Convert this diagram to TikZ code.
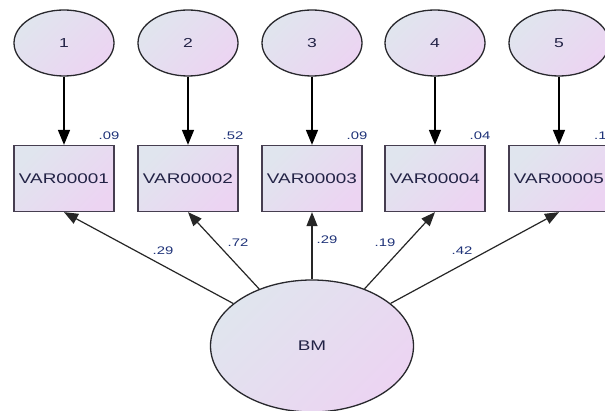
\documentclass[tikz,border=0pt]{standalone}
\usepackage{fontspec}
\setmainfont{Liberation Sans}
\usetikzlibrary{arrows.meta,shapes.geometric}
\definecolor{fillA}{RGB}{224,229,238}
\definecolor{fillB}{RGB}{236,212,242}
\definecolor{edge}{RGB}{40,40,45}
\definecolor{boxedge}{RGB}{70,62,80}
\definecolor{txt}{RGB}{35,35,70}
\definecolor{lbl}{RGB}{30,50,120}
\newcommand{\sx}[1]{\scalebox{1.35}[1]{#1}}
\tikzset{
  shadefill/.style={top color=fillA, bottom color=fillB, shading angle=45},
  errnode/.style={ellipse, draw=edge, line width=1.3pt, shadefill, minimum width=100pt, minimum height=66pt, inner sep=0pt, font=\fontsize{13}{15}\selectfont, text=txt},
  latnode/.style={ellipse, draw=edge, line width=1.3pt, shadefill, minimum width=203pt, minimum height=132pt, inner sep=0pt, font=\fontsize{14}{16}\selectfont, text=txt},
  obsnode/.style={rectangle, draw=boxedge, line width=1.3pt, shadefill, minimum width=100pt, minimum height=66pt, inner sep=0pt, font=\fontsize{14}{16}\selectfont, text=txt},
  numlbl/.style={font=\fontsize{11}{13}\selectfont, text=lbl, inner sep=0pt},
  errarrow/.style={-{Triangle[length=15pt,width=12pt]}, line width=1.6pt, draw=black},
  loadarrow/.style={-{Triangle[length=14pt,width=11pt]}, line width=1.2pt, draw=black!85}
}
\begin{document}
\begin{tikzpicture}[x=1pt,y=-1pt]
\useasboundingbox (0,0) rectangle (605,411);
\clip (0,0) rectangle (605,411);
\fill[white] (0,0) rectangle (605,411);
% error terms
\node[errnode] (e1) at (64,43) {\sx{1}};
\node[errnode] (e2) at (188,43) {\sx{2}};
\node[errnode] (e3) at (312,43) {\sx{3}};
\node[errnode] (e4) at (435,43) {\sx{4}};
\node[errnode] (e5) at (559,43) {\sx{5}};
% observed variables
\node[obsnode] (v1) at (64,178.5) {\sx{VAR00001}};
\node[obsnode] (v2) at (188,178.5) {\sx{VAR00002}};
\node[obsnode] (v3) at (312,178.5) {\sx{VAR00003}};
\node[obsnode] (v4) at (435,178.5) {\sx{VAR00004}};
\node[obsnode] (v5) at (559,178.5) {\sx{VAR00005}};
% latent
\node[latnode] (bm) at (312,346) {\sx{BM}};
% error arrows
\foreach \i in {1,...,5} { \draw[errarrow] (e\i) -- (v\i); }
% loadings
\draw[loadarrow] (bm) -- (v1.south);
\draw[loadarrow] (bm) -- (v2.south);
\draw[loadarrow] (bm) -- (v3.south);
\draw[loadarrow] (bm) -- (v4.south);
\draw[loadarrow] (bm) -- (v5.south);
% squared multiple correlations
\node[numlbl] (r1) at (109,136) {\sx{.09}};
\node[numlbl] (r2) at (233,136) {\sx{.52}};
\node[numlbl] (r3) at (357,136) {\sx{.09}};
\node[numlbl] (r4) at (480,136) {\sx{.04}};
\node[numlbl, anchor=west] (r5) at (594,136) {\sx{.1}};
% loading labels
\node[numlbl] (l1) at (163,251) {\sx{.29}};
\node[numlbl] (l2) at (238,243) {\sx{.72}};
\node[numlbl] (l3) at (327,240) {\sx{.29}};
\node[numlbl] (l4) at (385,243) {\sx{.19}};
\node[numlbl] (l5) at (462,251) {\sx{.42}};
\end{tikzpicture}
\end{document}
